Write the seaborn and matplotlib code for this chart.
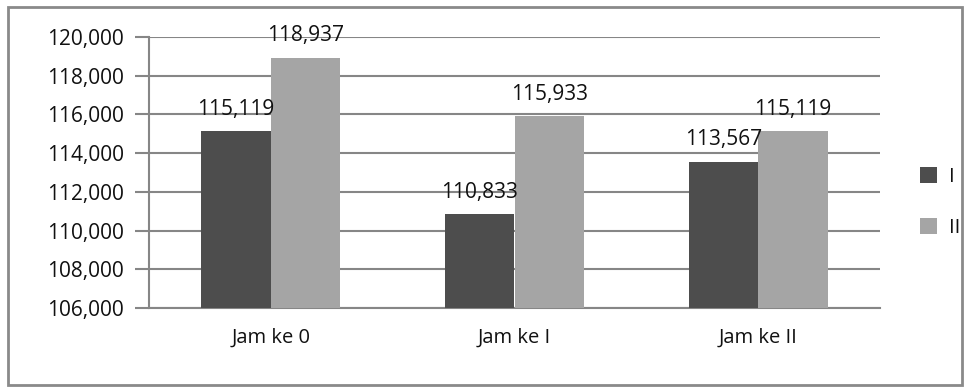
import matplotlib
matplotlib.use("Agg")
import matplotlib.pyplot as plt
import seaborn as sns
import pandas as pd
from matplotlib.patches import Rectangle

categories = ["Jam ke 0", "Jam ke I", "Jam ke II"]
series_names = ["I", "II"]
values_I = [115.119, 110.833, 113.567]
values_II = [118.937, 115.933, 115.119]
y_ticks = [106, 108, 110, 112, 114, 116, 118, 120]

df = pd.DataFrame({
    "cat": categories * 2,
    "series": [series_names[0]] * 3 + [series_names[1]] * 3,
    "val": values_I + values_II,
})

sns.set_theme(style="white")
plt.rcParams["font.family"] = ["Open Sans", "DejaVu Sans"]
txt_c = "#111111"

fig = plt.figure(figsize=(9.7, 3.92), dpi=100)
ax = fig.add_axes([149 / 970, 1 - 308 / 392, (880 - 149) / 970, (308 - 37) / 392])

grid_c = "#868686"
colors = ["#4d4d4d", "#a5a5a5"]
sns.barplot(data=df, x="cat", y="val", hue="series", palette=colors,
            width=0.57, saturation=1, ax=ax, legend=True, zorder=3,
            linewidth=0, edgecolor="none")

ax.set_ylim(106, 120)
ax.set_xlim(-0.5, 2.5)
ax.set_yticks(y_ticks)
ax.set_yticklabels([f"{v},000" for v in y_ticks], fontsize=15, color=txt_c)
ax.set_xlabel("")
ax.set_ylabel("")
ax.tick_params(axis="x", which="major", length=0, labelsize=14.5, pad=14, labelcolor=txt_c)
ax.set_xticks([-0.5, 0.5, 1.5, 2.5], minor=True)
ax.tick_params(axis="x", which="minor", length=8, width=1.5, color=grid_c, direction="out")
ax.tick_params(axis="y", length=10, width=1.5, color=grid_c, direction="out", pad=8, left=True)

ax.yaxis.grid(True, color=grid_c, linewidth=1.5, zorder=0)
ax.set_axisbelow(True)
for s in ["top", "right"]:
    ax.spines[s].set_visible(False)
for s in ["left", "bottom"]:
    ax.spines[s].set_color(grid_c)
    ax.spines[s].set_linewidth(1.5)

for cont in ax.containers:
    labels = [f"{v:.3f}".replace(".", ",") for v in cont.datavalues]
    ax.bar_label(cont, labels=labels, padding=8, fontsize=15, color=txt_c)

handles, labs = ax.get_legend_handles_labels()
leg = ax.legend(handles, labs, loc="center left", bbox_to_anchor=(1.03, 0.39), frameon=False,
                fontsize=14.5, handlelength=0.85, handleheight=0.85, labelspacing=1.55,
                handletextpad=0.6, labelcolor=txt_c)

fig.patches.append(Rectangle((8 / 970, 7 / 392), 954 / 970, 378 / 392,
                             transform=fig.transFigure, fill=False,
                             edgecolor="#8a8a8a", linewidth=2))

fig.savefig("out.png", dpi=100)
